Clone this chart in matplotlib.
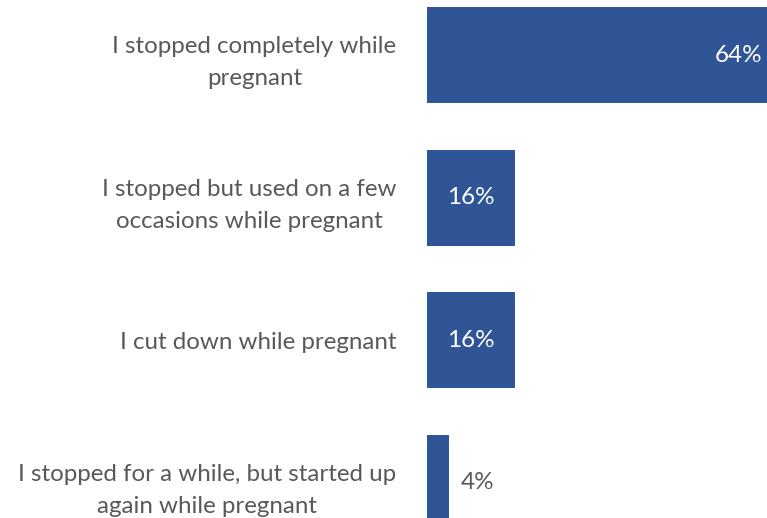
import matplotlib.pyplot as plt

# answers and shares (%)
answers = ['I stopped completely while\npregnant',
           'I stopped but used on a few\noccasions while pregnant',
           'I cut down while pregnant',
           'I stopped for a while, but started up\nagain while pregnant']
shares = [64, 16, 16, 4]

bar_color = '#2F5597'
text_color = '#595959'

plt.rcParams['font.family'] = ['Lato', 'DejaVu Sans']

fig = plt.figure(figsize=(7.67, 5.18), dpi=100)
ax = fig.add_axes([427 / 767, 0, 340 / 767, 1])

pos = list(range(len(answers)))
ax.barh(pos, shares, height=0.674, color=bar_color)

ax.set_xlim(0, 340 / 5.5)
ax.set_ylim(3.246, -0.389)

ax.set_yticks(pos)
ax.set_yticklabels(answers, fontsize=17.4, color=text_color, linespacing=1.65)
for t in ax.get_yticklabels():
    t.set_multialignment('center')
ax.tick_params(axis='y', length=0, pad=22)
ax.set_xticks([])
for s in ax.spines.values():
    s.set_visible(False)

# value labels
for y, v in zip(pos, shares):
    if v >= 50:
        ax.text(ax.get_xlim()[1] - 0.9, y, f'{v}%', ha='right', va='center',
                color='white', fontsize=17.5)
    elif v >= 10:
        ax.text(v / 2, y, f'{v}%', ha='center', va='center',
                color='white', fontsize=17.5)
    else:
        ax.text(v + 2.2, y, f'{v}%', ha='left', va='center',
                color=text_color, fontsize=17.5)

fig.savefig('out.png', dpi=100)
